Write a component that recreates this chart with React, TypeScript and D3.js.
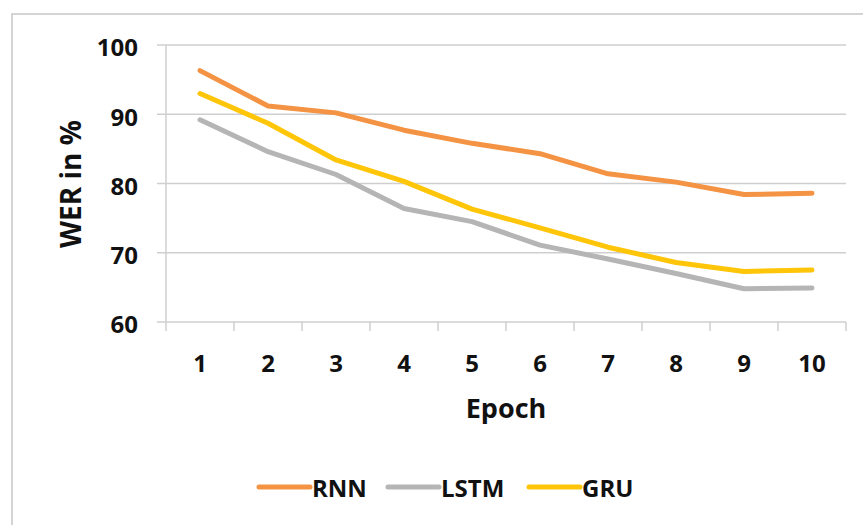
import * as d3 from "d3";

const epochs = ["1", "2", "3", "4", "5", "6", "7", "8", "9", "10"];
const rnn = [96.3, 91.2, 90.2, 87.7, 85.8, 84.3, 81.4, 80.2, 78.4, 78.6];
const lstm = [89.2, 84.6, 81.3, 76.4, 74.5, 71.1, 69.1, 67.0, 64.8, 64.9];
const gru = [93.0, 88.7, 83.4, 80.3, 76.3, 73.6, 70.8, 68.6, 67.3, 67.5];
const yTicks = [60, 70, 80, 90, 100];

const series = [
  { name: "RNN", values: rnn, color: "#F39343" },
  { name: "LSTM", values: lstm, color: "#B5B5B5" },
  { name: "GRU", values: gru, color: "#FFC508" },
];

const WIDTH = 863;
const HEIGHT = 525;
const PLOT = { left: 166, right: 846, top: 45, bottom: 322 };
const FONT = "'Open Sans', 'DejaVu Sans', sans-serif";
const GRID = "#CFCFCF";

// legend item positions (line start) and text starts
const LEGEND_Y = 487;
const legendItems = [
  { x: 259, tx: 312 },
  { x: 388, tx: 441 },
  { x: 529, tx: 582 },
];

export default function App() {
  const xScale = d3
    .scaleBand()
    .domain(epochs)
    .range([PLOT.left, PLOT.right]);

  const yScale = d3
    .scaleLinear()
    .domain([60, 100])
    .range([PLOT.bottom, PLOT.top]);

  const line = d3
    .line<number>()
    .x((_, i) => (xScale(epochs[i]) ?? 0) + xScale.bandwidth() / 2)
    .y((d) => yScale(d));

  return (
    <svg
      width={WIDTH}
      height={HEIGHT}
      style={{ position: "absolute", left: 0, top: 0, background: "white" }}
      fontFamily={FONT}
      fontWeight={700}
    >
      {/* chart area border, cropped on right and bottom */}
      <rect
        x={12}
        y={14}
        width={WIDTH + 20}
        height={HEIGHT + 20}
        fill="white"
        stroke="#C6C6C6"
        strokeWidth={1.5}
      />

      {/* horizontal gridlines + y ticks */}
      {yTicks.map((t) => (
        <g key={t}>
          <line
            x1={PLOT.left - 9}
            x2={PLOT.right}
            y1={yScale(t)}
            y2={yScale(t)}
            stroke={GRID}
            strokeWidth={1.5}
          />
          <text
            x={138}
            y={yScale(t) + 5}
            textAnchor="end"
            dominantBaseline="middle"
            fontSize={24}
            fill="#111"
          >
            {t}
          </text>
        </g>
      ))}

      {/* y axis line */}
      <line
        x1={PLOT.left}
        x2={PLOT.left}
        y1={PLOT.top}
        y2={PLOT.bottom + 9}
        stroke={GRID}
        strokeWidth={1.5}
      />

      {/* x ticks at band edges */}
      {epochs.map((e) => (
        <line
          key={"t" + e}
          x1={(xScale(e) ?? 0) + xScale.bandwidth()}
          x2={(xScale(e) ?? 0) + xScale.bandwidth()}
          y1={PLOT.bottom}
          y2={PLOT.bottom + 9}
          stroke={GRID}
          strokeWidth={1.5}
        />
      ))}

      {/* x labels */}
      {epochs.map((e) => (
        <text
          key={"l" + e}
          x={(xScale(e) ?? 0) + xScale.bandwidth() / 2}
          y={372}
          textAnchor="middle"
          fontSize={24}
          fill="#111"
        >
          {e}
        </text>
      ))}

      {/* series */}
      {series.map((s) => (
        <path
          key={s.name}
          d={line(s.values) ?? ""}
          fill="none"
          stroke={s.color}
          strokeWidth={5}
          strokeLinejoin="round"
          strokeLinecap="round"
        />
      ))}

      {/* axis titles */}
      <text
        x={(PLOT.left + PLOT.right) / 2}
        y={418}
        textAnchor="middle"
        fontSize={27}
        fill="#111"
      >
        Epoch
      </text>
      <text
        transform={`translate(81, 184) rotate(-90)`}
        textAnchor="middle"
        fontSize={28}
        fill="#111"
      >
        WER in %
      </text>

      {/* legend */}
      {series.map((s, i) => (
        <g key={"lg" + s.name}>
          <line
            x1={legendItems[i].x}
            x2={legendItems[i].x + 51}
            y1={LEGEND_Y}
            y2={LEGEND_Y}
            stroke={s.color}
            strokeWidth={5}
            strokeLinecap="round"
          />
          <text
            x={legendItems[i].tx}
            y={497}
            fontSize={24}
            fill="#111"
          >
            {s.name}
          </text>
        </g>
      ))}
    </svg>
  );
}
